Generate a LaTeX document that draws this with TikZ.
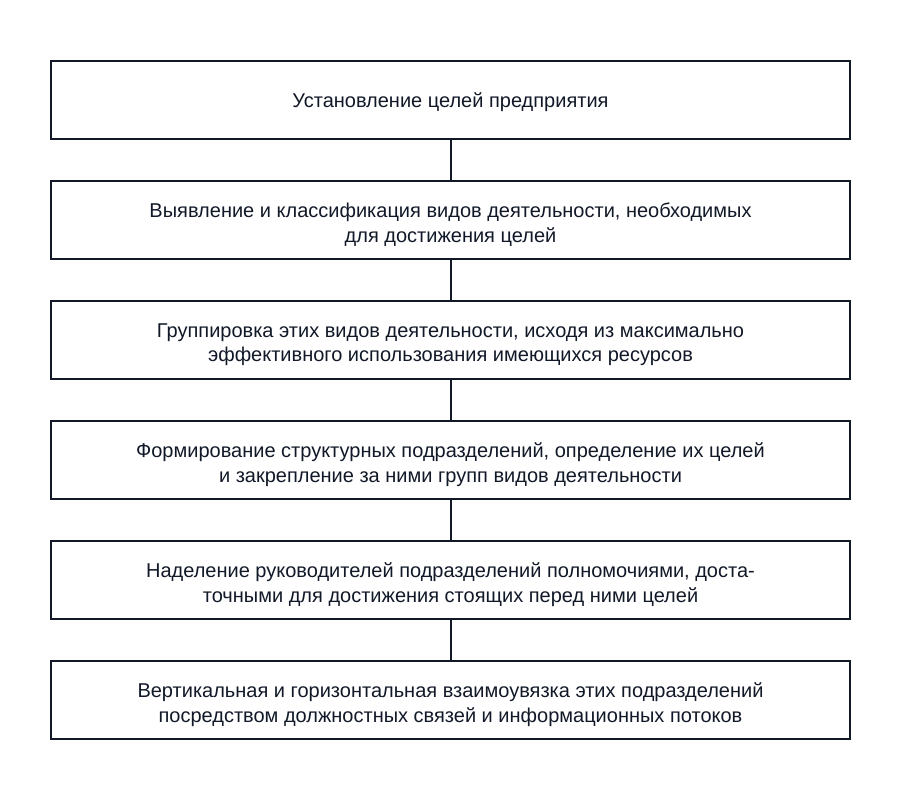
\documentclass[tikz,border=0pt]{standalone}
\usepackage{fontspec}
\setmainfont{Liberation Sans}
\definecolor{ink}{HTML}{111827}
\begin{document}
\begin{tikzpicture}[x=1pt,y=-1pt,
  stepbox/.style={draw=ink, line width=2pt, minimum width=799pt, minimum height=78pt, inner sep=0pt},
  steptext/.style={align=center, text=ink, inner sep=0pt, font=\fontsize{20}{24.5}\selectfont},
  link/.style={draw=ink, line width=2pt}]
\useasboundingbox (0,0) rectangle (900,800);
\node[stepbox] (s1) at (450.5,100) {};
\node[stepbox] (s2) at (450.5,220) {};
\node[stepbox] (s3) at (450.5,340) {};
\node[stepbox] (s4) at (450.5,460) {};
\node[stepbox] (s5) at (450.5,580) {};
\node[stepbox] (s6) at (450.5,700) {};
\node[steptext] (t1) at ([yshift=-2.5pt]s1.center) {Установление целей предприятия};
\node[steptext] (t2) at ([yshift=-4.5pt]s2.center) {Выявление и классификация видов деятельности, необходимых\\для достижения целей};
\node[steptext] (t3) at ([yshift=-4.5pt]s3.center) {Группировка этих видов деятельности, исходя из максимально\\эффективного использования имеющихся ресурсов};
\node[steptext] (t4) at ([yshift=-4.5pt]s4.center) {Формирование структурных подразделений, определение их целей\\и закрепление за ними групп видов деятельности};
\node[steptext] (t5) at ([yshift=-4.5pt]s5.center) {Наделение руководителей подразделений полномочиями, доста-\\точными для достижения стоящих перед ними целей};
\node[steptext] (t6) at ([yshift=-4.5pt]s6.center) {Вертикальная и горизонтальная взаимоувязка этих подразделений\\посредством должностных связей и информационных потоков};
\draw[link] (s1.south) -- (s2.north);
\draw[link] (s2.south) -- (s3.north);
\draw[link] (s3.south) -- (s4.north);
\draw[link] (s4.south) -- (s5.north);
\draw[link] (s5.south) -- (s6.north);
\end{tikzpicture}
\end{document}
